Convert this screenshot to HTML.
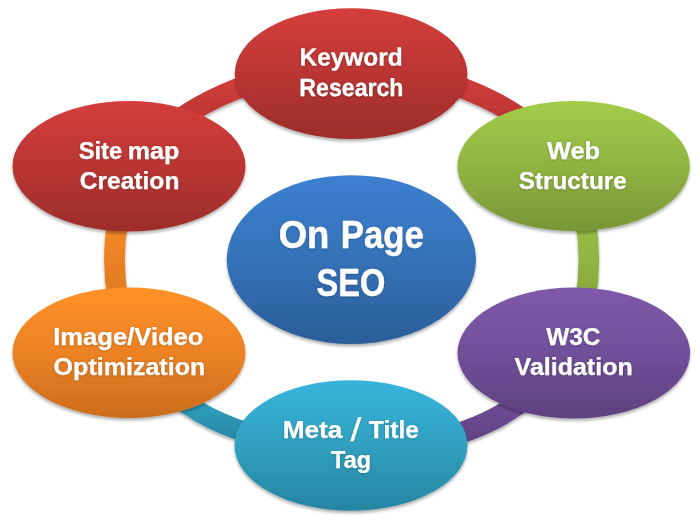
<!DOCTYPE html>
<html lang="en">
<head>
<meta charset="utf-8">
<title>On Page SEO</title>
<style>
html,body{margin:0;padding:0;background:#fff;}
body{width:700px;height:522px;overflow:hidden;}
svg{display:block;}
text{font-family:"Liberation Sans",Arial,sans-serif;fill:#fff;stroke:#fff;stroke-linejoin:round;}
</style>
</head>
<body>
<svg width="700" height="522" viewBox="0 0 700 522" role="img" aria-label="On Page SEO diagram">
<defs>
<filter id="sh" x="-20%" y="-20%" width="140%" height="150%">
<feDropShadow dx="0" dy="2.3" stdDeviation="1.7" flood-color="#000" flood-opacity="0.32"/>
</filter>
<filter id="tsh" x="-10%" y="-30%" width="120%" height="170%">
<feDropShadow dx="0" dy="0.5" stdDeviation="1.2" flood-color="#000" flood-opacity="0.32"/>
</filter>
<linearGradient id="g_red" x1="0" y1="0" x2="0" y2="1"><stop offset="0" stop-color="#d43d3b"/><stop offset="0.5" stop-color="#ba3633"/><stop offset="1" stop-color="#9c2d2b"/></linearGradient>
<linearGradient id="g_green" x1="0" y1="0" x2="0" y2="1"><stop offset="0" stop-color="#a2cc49"/><stop offset="0.5" stop-color="#90b443"/><stop offset="1" stop-color="#799637"/></linearGradient>
<linearGradient id="g_purple" x1="0" y1="0" x2="0" y2="1"><stop offset="0" stop-color="#7f59a9"/><stop offset="0.5" stop-color="#714f99"/><stop offset="1" stop-color="#5e4180"/></linearGradient>
<linearGradient id="g_teal" x1="0" y1="0" x2="0" y2="1"><stop offset="0" stop-color="#37b4dc"/><stop offset="0.5" stop-color="#31a0c0"/><stop offset="1" stop-color="#2685a1"/></linearGradient>
<linearGradient id="g_orange" x1="0" y1="0" x2="0" y2="1"><stop offset="0" stop-color="#ff9128"/><stop offset="0.5" stop-color="#ec8224"/><stop offset="1" stop-color="#cb6c1d"/></linearGradient>
<linearGradient id="g_blue" x1="0" y1="0" x2="0" y2="1"><stop offset="0" stop-color="#3c80d0"/><stop offset="0.5" stop-color="#3572b8"/><stop offset="1" stop-color="#2b5d99"/></linearGradient>
<linearGradient id="c_site_kw" gradientUnits="userSpaceOnUse" x1="0" y1="74" x2="0" y2="166"><stop offset="0" stop-color="#d43d3b"/><stop offset="0.5" stop-color="#ba3633"/><stop offset="1" stop-color="#9c2d2b"/></linearGradient>
<linearGradient id="c_kw_web" gradientUnits="userSpaceOnUse" x1="0" y1="74" x2="0" y2="166"><stop offset="0" stop-color="#d43d3b"/><stop offset="0.5" stop-color="#ba3633"/><stop offset="1" stop-color="#9c2d2b"/></linearGradient>
<linearGradient id="c_web_w3c" gradientUnits="userSpaceOnUse" x1="0" y1="166" x2="0" y2="353"><stop offset="0" stop-color="#a2cc49"/><stop offset="0.5" stop-color="#90b443"/><stop offset="1" stop-color="#799637"/></linearGradient>
<linearGradient id="c_w3c_meta" gradientUnits="userSpaceOnUse" x1="0" y1="353" x2="0" y2="445"><stop offset="0" stop-color="#7f59a9"/><stop offset="0.5" stop-color="#714f99"/><stop offset="1" stop-color="#5e4180"/></linearGradient>
<linearGradient id="c_meta_img" gradientUnits="userSpaceOnUse" x1="0" y1="353" x2="0" y2="445"><stop offset="0" stop-color="#37b4dc"/><stop offset="0.5" stop-color="#31a0c0"/><stop offset="1" stop-color="#2685a1"/></linearGradient>
<linearGradient id="c_img_site" gradientUnits="userSpaceOnUse" x1="0" y1="166" x2="0" y2="353"><stop offset="0" stop-color="#ff9128"/><stop offset="0.5" stop-color="#ec8224"/><stop offset="1" stop-color="#cb6c1d"/></linearGradient>
</defs>
<rect width="700" height="522" fill="#fff"/>
<g filter="url(#sh)" fill="none" stroke-linecap="butt">
<path d="M172 125 Q 205.2 98.4 262 80" stroke="url(#c_site_kw)" stroke-width="20.8"/>
<path d="M440 80 Q 496.8 98.4 530 125" stroke="url(#c_kw_web)" stroke-width="20.8"/>
<path d="M585.44 220 Q 592.34 259.5 585.44 300" stroke="url(#c_web_w3c)" stroke-width="20.7"/>
<path d="M530 394 Q 498.2 423.4 440 439" stroke="url(#c_w3c_meta)" stroke-width="21.4"/>
<path d="M262.9 437.2 Q 204.5 422.2 172.9 392.2" stroke="url(#c_meta_img)" stroke-width="20.4"/>
<path d="M117.96 300 Q 111.05 259.5 117.96 220" stroke="url(#c_img_site)" stroke-width="20.8"/>
</g>
<g filter="url(#sh)">
<ellipse cx="129.0" cy="166.3" rx="116.5" ry="65.2" fill="url(#g_red)"/>
<ellipse cx="351.1" cy="73.7" rx="116.3" ry="65.4" fill="url(#g_red)"/>
<ellipse cx="573.6" cy="166.1" rx="116.2" ry="65.0" fill="url(#g_green)"/>
<ellipse cx="573.8" cy="353.0" rx="116.3" ry="65.4" fill="url(#g_purple)"/>
<ellipse cx="351.0" cy="445.5" rx="116.5" ry="65.2" fill="url(#g_teal)"/>
<ellipse cx="129.0" cy="352.8" rx="116.5" ry="65.2" fill="url(#g_orange)"/>
<ellipse cx="351.4" cy="259.6" rx="124.6" ry="84.4" fill="url(#g_blue)"/>
</g>
<g filter="url(#tsh)">
<text font-size="24.8" font-weight="bold" stroke-width="0.25" transform="rotate(0.03 351.1 73.7)"><tspan x="299.48" y="65.50" textLength="103.24" lengthAdjust="spacingAndGlyphs">Keyword</tspan> <tspan x="299.38" y="95.95" textLength="104.14" lengthAdjust="spacingAndGlyphs">Research</tspan></text>
<text font-size="24.8" font-weight="bold" stroke-width="0.25" transform="rotate(0.03 573.6 166.1)"><tspan x="546.92" y="158.50" textLength="53.19" lengthAdjust="spacingAndGlyphs">Web</tspan> <tspan x="518.67" y="188.50" textLength="108.12" lengthAdjust="spacingAndGlyphs">Structure</tspan></text>
<text font-size="24.8" font-weight="bold" stroke-width="0.25" transform="rotate(0.03 573.8 353.0)"><tspan x="546.19" y="345.10" textLength="54.30" lengthAdjust="spacingAndGlyphs">W3C</tspan> <tspan x="514.58" y="374.90" textLength="118.10" lengthAdjust="spacingAndGlyphs">Validation</tspan></text>
<text font-size="24.8" font-weight="bold" stroke-width="0.25" transform="rotate(0.03 351.0 445.5)"><tspan x="282.70" y="437.60" textLength="59.74" lengthAdjust="spacingAndGlyphs">Meta</tspan> <tspan x="350.47" y="441.40" textLength="10.83" lengthAdjust="spacingAndGlyphs" font-size="32.5" font-weight="normal">/</tspan> <tspan x="368.85" y="437.60" textLength="50.16" lengthAdjust="spacingAndGlyphs">Title</tspan> <tspan x="331.10" y="467.60" textLength="39.97" lengthAdjust="spacingAndGlyphs">Tag</tspan></text>
<text font-size="24.8" font-weight="bold" stroke-width="0.25" transform="rotate(0.03 129.0 352.8)"><tspan x="53.26" y="344.80" textLength="150.21" lengthAdjust="spacingAndGlyphs">Image/Video</tspan> <tspan x="53.64" y="374.90" textLength="151.62" lengthAdjust="spacingAndGlyphs">Optimization</tspan></text>
<text font-size="24.8" font-weight="bold" stroke-width="0.25" transform="rotate(0.03 129.0 166.3)"><tspan x="78.63" y="158.50" textLength="43.48" lengthAdjust="spacingAndGlyphs">Site</tspan> <tspan x="127.68" y="158.50" textLength="51.58" lengthAdjust="spacingAndGlyphs">map</tspan> <tspan x="79.66" y="188.50" textLength="99.76" lengthAdjust="spacingAndGlyphs">Creation</tspan></text>
<text font-size="39.0" font-weight="bold" stroke-width="0.5" transform="rotate(0.03 351.4 259.6)"><tspan x="278.64" y="247.60" textLength="50.66" lengthAdjust="spacingAndGlyphs">On</tspan> <tspan x="340.77" y="247.60" textLength="83.02" lengthAdjust="spacingAndGlyphs">Page</tspan> <tspan x="316.62" y="295.70" textLength="68.82" lengthAdjust="spacingAndGlyphs">SEO</tspan></text>
</g>
</svg>
</body>
</html>
